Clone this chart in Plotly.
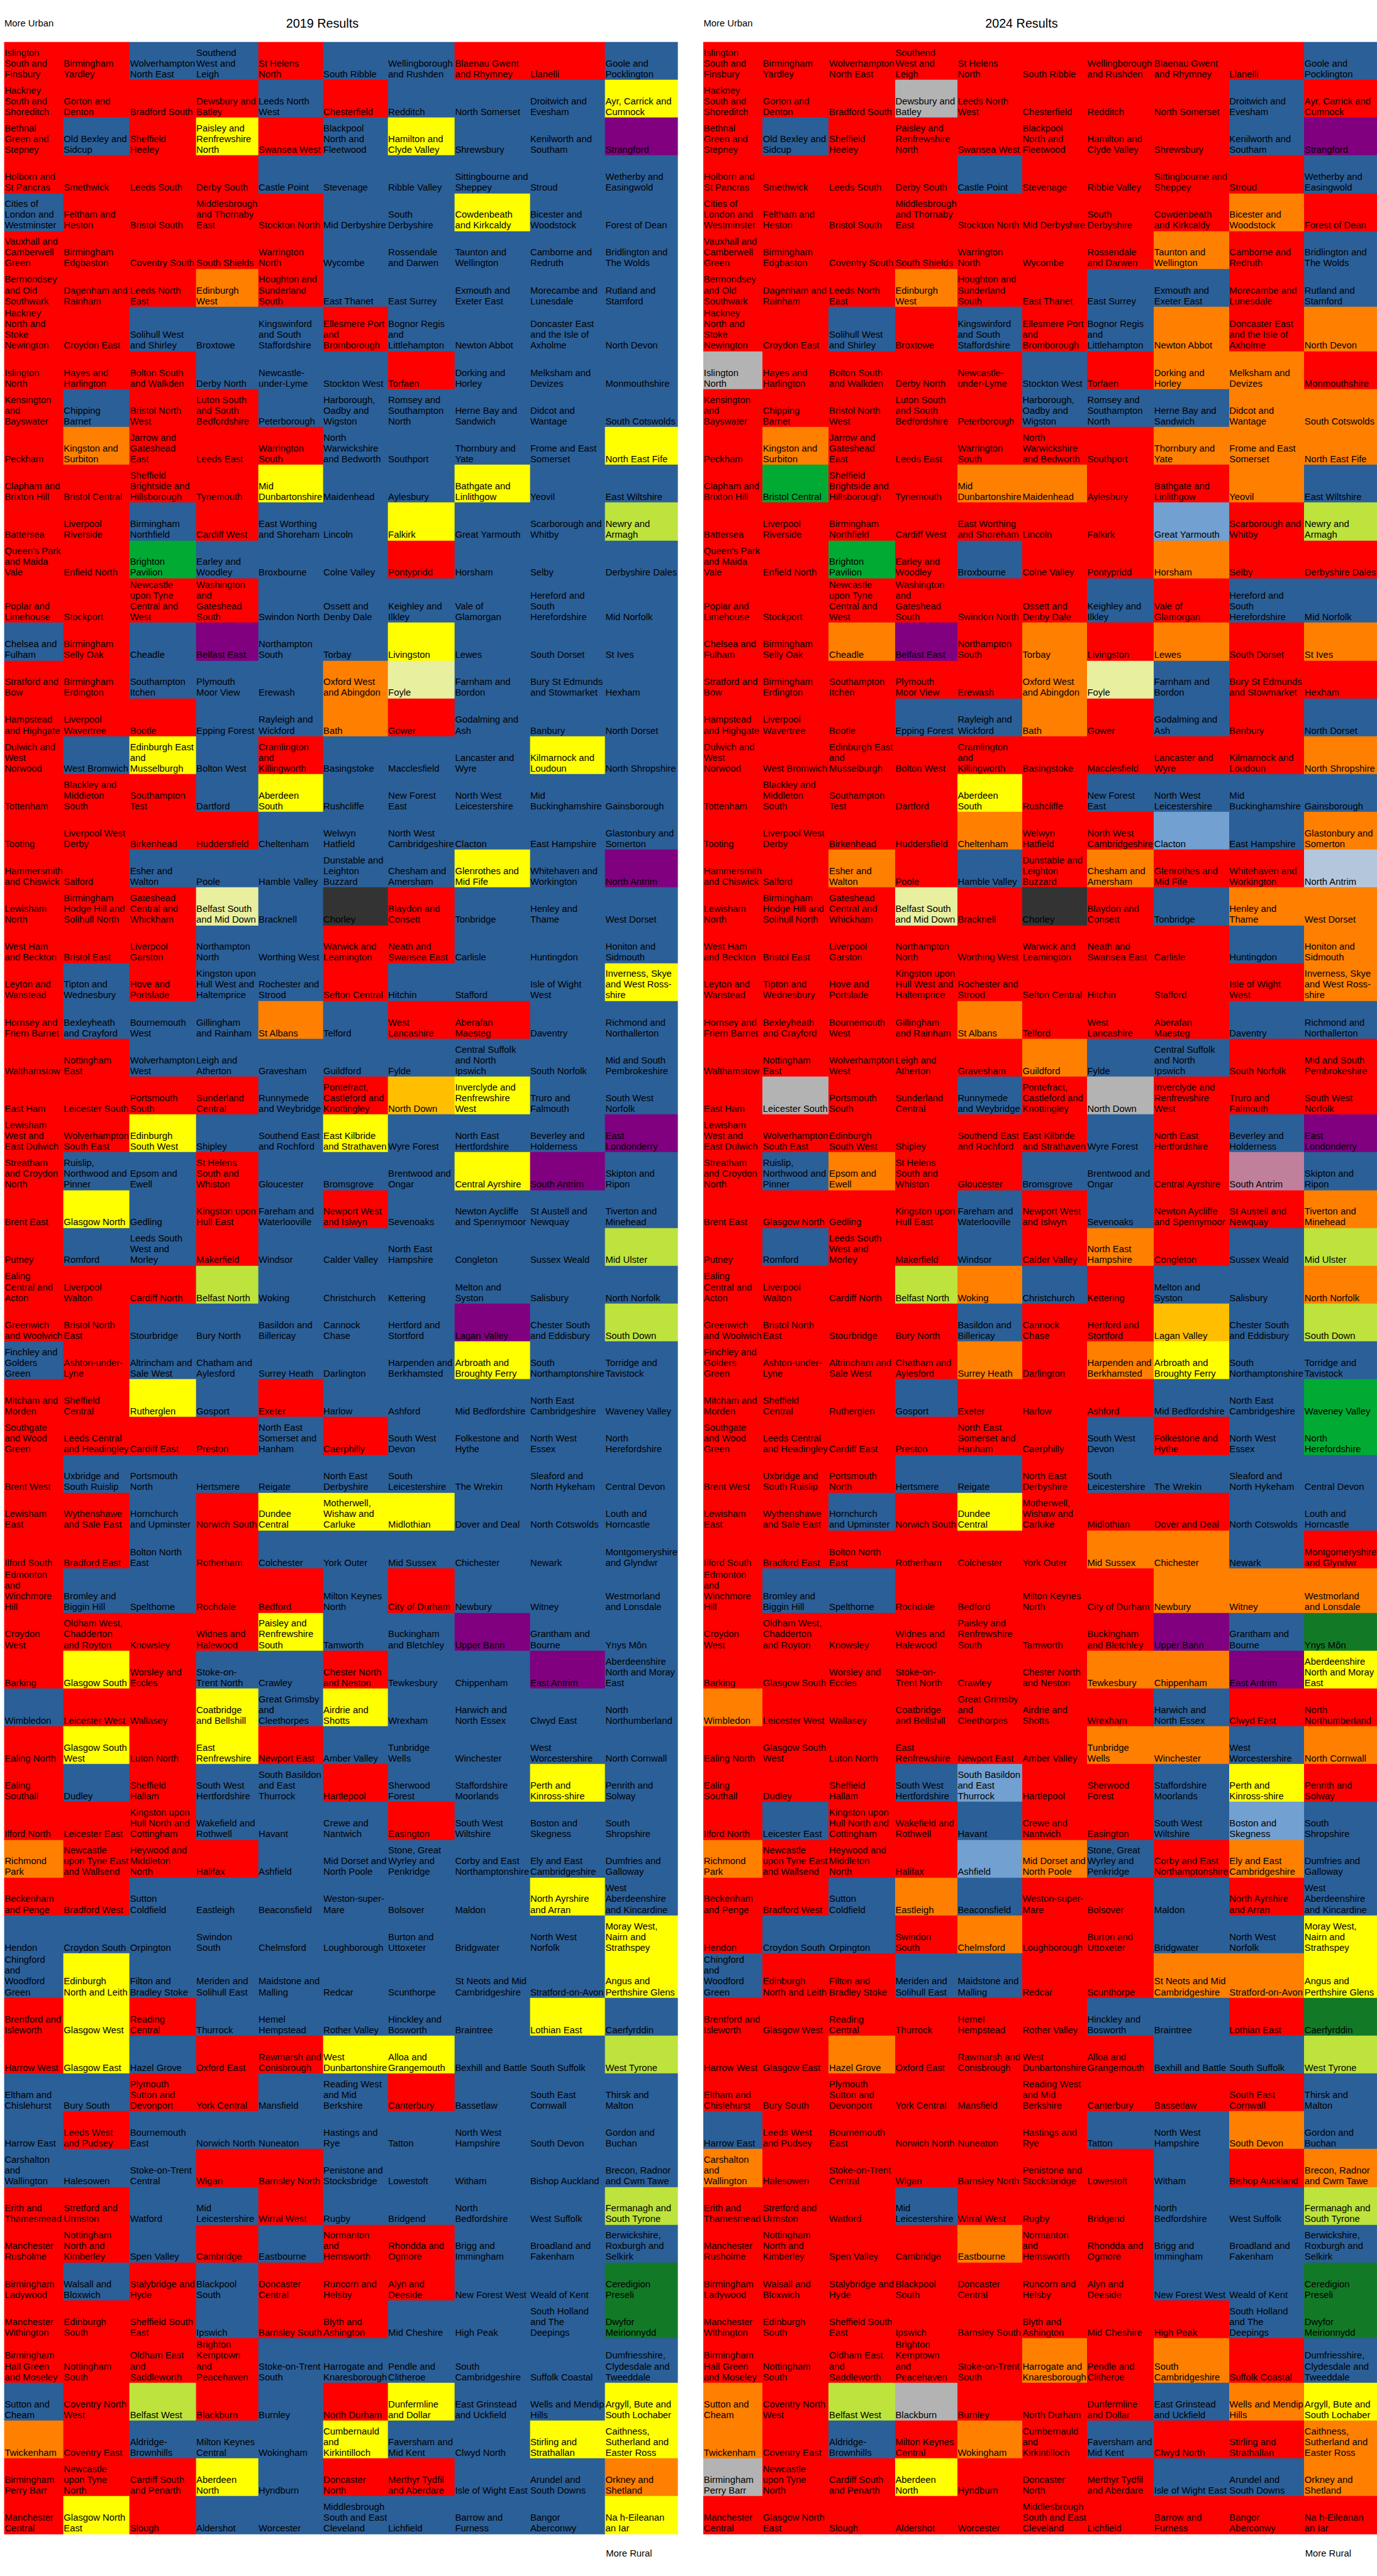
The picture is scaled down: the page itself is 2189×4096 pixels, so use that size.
import re
import plotly.graph_objects as go

# ------------------------------------------------------------------ data
# 65 rows x 10 columns, ordered from most urban (top-left) to most rural (bottom-right)
CONSTITUENCIES = [
    ["Islington South and Finsbury", "Birmingham Yardley", "Wolverhampton North East", "Southend West and Leigh", "St Helens North", "South Ribble", "Wellingborough and Rushden", "Blaenau Gwent and Rhymney", "Llanelli", "Goole and Pocklington"],
    ["Hackney South and Shoreditch", "Gorton and Denton", "Bradford South", "Dewsbury and Batley", "Leeds North West", "Chesterfield", "Redditch", "North Somerset", "Droitwich and Evesham", "Ayr, Carrick and Cumnock"],
    ["Bethnal Green and Stepney", "Old Bexley and Sidcup", "Sheffield Heeley", "Paisley and Renfrewshire North", "Swansea West", "Blackpool North and Fleetwood", "Hamilton and Clyde Valley", "Shrewsbury", "Kenilworth and Southam", "Strangford"],
    ["Holborn and St Pancras", "Smethwick", "Leeds South", "Derby South", "Castle Point", "Stevenage", "Ribble Valley", "Sittingbourne and Sheppey", "Stroud", "Wetherby and Easingwold"],
    ["Cities of London and Westminster", "Feltham and Heston", "Bristol South", "Middlesbrough and Thornaby East", "Stockton North", "Mid Derbyshire", "South Derbyshire", "Cowdenbeath and Kirkcaldy", "Bicester and Woodstock", "Forest of Dean"],
    ["Vauxhall and Camberwell Green", "Birmingham Edgbaston", "Coventry South", "South Shields", "Warrington North", "Wycombe", "Rossendale and Darwen", "Taunton and Wellington", "Camborne and Redruth", "Bridlington and The Wolds"],
    ["Bermondsey and Old Southwark", "Dagenham and Rainham", "Leeds North East", "Edinburgh West", "Houghton and Sunderland South", "East Thanet", "East Surrey", "Exmouth and Exeter East", "Morecambe and Lunesdale", "Rutland and Stamford"],
    ["Hackney North and Stoke Newington", "Croydon East", "Solihull West and Shirley", "Broxtowe", "Kingswinford and South Staffordshire", "Ellesmere Port and Bromborough", "Bognor Regis and Littlehampton", "Newton Abbot", "Doncaster East and the Isle of Axholme", "North Devon"],
    ["Islington North", "Hayes and Harlington", "Bolton South and Walkden", "Derby North", "Newcastle-under-Lyme", "Stockton West", "Torfaen", "Dorking and Horley", "Melksham and Devizes", "Monmouthshire"],
    ["Kensington and Bayswater", "Chipping Barnet", "Bristol North West", "Luton South and South Bedfordshire", "Peterborough", "Harborough, Oadby and Wigston", "Romsey and Southampton North", "Herne Bay and Sandwich", "Didcot and Wantage", "South Cotswolds"],
    ["Peckham", "Kingston and Surbiton", "Jarrow and Gateshead East", "Leeds East", "Warrington South", "North Warwickshire and Bedworth", "Southport", "Thornbury and Yate", "Frome and East Somerset", "North East Fife"],
    ["Clapham and Brixton Hill", "Bristol Central", "Sheffield Brightside and Hillsborough", "Tynemouth", "Mid Dunbartonshire", "Maidenhead", "Aylesbury", "Bathgate and Linlithgow", "Yeovil", "East Wiltshire"],
    ["Battersea", "Liverpool Riverside", "Birmingham Northfield", "Cardiff West", "East Worthing and Shoreham", "Lincoln", "Falkirk", "Great Yarmouth", "Scarborough and Whitby", "Newry and Armagh"],
    ["Queen's Park and Maida Vale", "Enfield North", "Brighton Pavilion", "Earley and Woodley", "Broxbourne", "Colne Valley", "Pontypridd", "Horsham", "Selby", "Derbyshire Dales"],
    ["Poplar and Limehouse", "Stockport", "Newcastle upon Tyne Central and West", "Washington and Gateshead South", "Swindon North", "Ossett and Denby Dale", "Keighley and Ilkley", "Vale of Glamorgan", "Hereford and South Herefordshire", "Mid Norfolk"],
    ["Chelsea and Fulham", "Birmingham Selly Oak", "Cheadle", "Belfast East", "Northampton South", "Torbay", "Livingston", "Lewes", "South Dorset", "St Ives"],
    ["Stratford and Bow", "Birmingham Erdington", "Southampton Itchen", "Plymouth Moor View", "Erewash", "Oxford West and Abingdon", "Foyle", "Farnham and Bordon", "Bury St Edmunds and Stowmarket", "Hexham"],
    ["Hampstead and Highgate", "Liverpool Wavertree", "Bootle", "Epping Forest", "Rayleigh and Wickford", "Bath", "Gower", "Godalming and Ash", "Banbury", "North Dorset"],
    ["Dulwich and West Norwood", "West Bromwich", "Edinburgh East and Musselburgh", "Bolton West", "Cramlington and Killingworth", "Basingstoke", "Macclesfield", "Lancaster and Wyre", "Kilmarnock and Loudoun", "North Shropshire"],
    ["Tottenham", "Blackley and Middleton South", "Southampton Test", "Dartford", "Aberdeen South", "Rushcliffe", "New Forest East", "North West Leicestershire", "Mid Buckinghamshire", "Gainsborough"],
    ["Tooting", "Liverpool West Derby", "Birkenhead", "Huddersfield", "Cheltenham", "Welwyn Hatfield", "North West Cambridgeshire", "Clacton", "East Hampshire", "Glastonbury and Somerton"],
    ["Hammersmith and Chiswick", "Salford", "Esher and Walton", "Poole", "Hamble Valley", "Dunstable and Leighton Buzzard", "Chesham and Amersham", "Glenrothes and Mid Fife", "Whitehaven and Workington", "North Antrim"],
    ["Lewisham North", "Birmingham Hodge Hill and Solihull North", "Gateshead Central and Whickham", "Belfast South and Mid Down", "Bracknell", "Chorley", "Blaydon and Consett", "Tonbridge", "Henley and Thame", "West Dorset"],
    ["West Ham and Beckton", "Bristol East", "Liverpool Garston", "Northampton North", "Worthing West", "Warwick and Leamington", "Neath and Swansea East", "Carlisle", "Huntingdon", "Honiton and Sidmouth"],
    ["Leyton and Wanstead", "Tipton and Wednesbury", "Hove and Portslade", "Kingston upon Hull West and Haltemprice", "Rochester and Strood", "Sefton Central", "Hitchin", "Stafford", "Isle of Wight West", "Inverness, Skye and West Ross-shire"],
    ["Hornsey and Friern Barnet", "Bexleyheath and Crayford", "Bournemouth West", "Gillingham and Rainham", "St Albans", "Telford", "West Lancashire", "Aberafan Maesteg", "Daventry", "Richmond and Northallerton"],
    ["Walthamstow", "Nottingham East", "Wolverhampton West", "Leigh and Atherton", "Gravesham", "Guildford", "Fylde", "Central Suffolk and North Ipswich", "South Norfolk", "Mid and South Pembrokeshire"],
    ["East Ham", "Leicester South", "Portsmouth South", "Sunderland Central", "Runnymede and Weybridge", "Pontefract, Castleford and Knottingley", "North Down", "Inverclyde and Renfrewshire West", "Truro and Falmouth", "South West Norfolk"],
    ["Lewisham West and East Dulwich", "Wolverhampton South East", "Edinburgh South West", "Shipley", "Southend East and Rochford", "East Kilbride and Strathaven", "Wyre Forest", "North East Hertfordshire", "Beverley and Holderness", "East Londonderry"],
    ["Streatham and Croydon North", "Ruislip, Northwood and Pinner", "Epsom and Ewell", "St Helens South and Whiston", "Gloucester", "Bromsgrove", "Brentwood and Ongar", "Central Ayrshire", "South Antrim", "Skipton and Ripon"],
    ["Brent East", "Glasgow North", "Gedling", "Kingston upon Hull East", "Fareham and Waterlooville", "Newport West and Islwyn", "Sevenoaks", "Newton Aycliffe and Spennymoor", "St Austell and Newquay", "Tiverton and Minehead"],
    ["Putney", "Romford", "Leeds South West and Morley", "Makerfield", "Windsor", "Calder Valley", "North East Hampshire", "Congleton", "Sussex Weald", "Mid Ulster"],
    ["Ealing Central and Acton", "Liverpool Walton", "Cardiff North", "Belfast North", "Woking", "Christchurch", "Kettering", "Melton and Syston", "Salisbury", "North Norfolk"],
    ["Greenwich and Woolwich", "Bristol North East", "Stourbridge", "Bury North", "Basildon and Billericay", "Cannock Chase", "Hertford and Stortford", "Lagan Valley", "Chester South and Eddisbury", "South Down"],
    ["Finchley and Golders Green", "Ashton-under-Lyne", "Altrincham and Sale West", "Chatham and Aylesford", "Surrey Heath", "Darlington", "Harpenden and Berkhamsted", "Arbroath and Broughty Ferry", "South Northamptonshire", "Torridge and Tavistock"],
    ["Mitcham and Morden", "Sheffield Central", "Rutherglen", "Gosport", "Exeter", "Harlow", "Ashford", "Mid Bedfordshire", "North East Cambridgeshire", "Waveney Valley"],
    ["Southgate and Wood Green", "Leeds Central and Headingley", "Cardiff East", "Preston", "North East Somerset and Hanham", "Caerphilly", "South West Devon", "Folkestone and Hythe", "North West Essex", "North Herefordshire"],
    ["Brent West", "Uxbridge and South Ruislip", "Portsmouth North", "Hertsmere", "Reigate", "North East Derbyshire", "South Leicestershire", "The Wrekin", "Sleaford and North Hykeham", "Central Devon"],
    ["Lewisham East", "Wythenshawe and Sale East", "Hornchurch and Upminster", "Norwich South", "Dundee Central", "Motherwell, Wishaw and Carluke", "Midlothian", "Dover and Deal", "North Cotswolds", "Louth and Horncastle"],
    ["Ilford South", "Bradford East", "Bolton North East", "Rotherham", "Colchester", "York Outer", "Mid Sussex", "Chichester", "Newark", "Montgomeryshire and Glyndwr"],
    ["Edmonton and Winchmore Hill", "Bromley and Biggin Hill", "Spelthorne", "Rochdale", "Bedford", "Milton Keynes North", "City of Durham", "Newbury", "Witney", "Westmorland and Lonsdale"],
    ["Croydon West", "Oldham West, Chadderton and Royton", "Knowsley", "Widnes and Halewood", "Paisley and Renfrewshire South", "Tamworth", "Buckingham and Bletchley", "Upper Bann", "Grantham and Bourne", "Ynys Môn"],
    ["Barking", "Glasgow South", "Worsley and Eccles", "Stoke-on-Trent North", "Crawley", "Chester North and Neston", "Tewkesbury", "Chippenham", "East Antrim", "Aberdeenshire North and Moray East"],
    ["Wimbledon", "Leicester West", "Wallasey", "Coatbridge and Bellshill", "Great Grimsby and Cleethorpes", "Airdrie and Shotts", "Wrexham", "Harwich and North Essex", "Clwyd East", "North Northumberland"],
    ["Ealing North", "Glasgow South West", "Luton North", "East Renfrewshire", "Newport East", "Amber Valley", "Tunbridge Wells", "Winchester", "West Worcestershire", "North Cornwall"],
    ["Ealing Southall", "Dudley", "Sheffield Hallam", "South West Hertfordshire", "South Basildon and East Thurrock", "Hartlepool", "Sherwood Forest", "Staffordshire Moorlands", "Perth and Kinross-shire", "Penrith and Solway"],
    ["Ilford North", "Leicester East", "Kingston upon Hull North and Cottingham", "Wakefield and Rothwell", "Havant", "Crewe and Nantwich", "Easington", "South West Wiltshire", "Boston and Skegness", "South Shropshire"],
    ["Richmond Park", "Newcastle upon Tyne East and Wallsend", "Heywood and Middleton North", "Halifax", "Ashfield", "Mid Dorset and North Poole", "Stone, Great Wyrley and Penkridge", "Corby and East Northamptonshire", "Ely and East Cambridgeshire", "Dumfries and Galloway"],
    ["Beckenham and Penge", "Bradford West", "Sutton Coldfield", "Eastleigh", "Beaconsfield", "Weston-super-Mare", "Bolsover", "Maldon", "North Ayrshire and Arran", "West Aberdeenshire and Kincardine"],
    ["Hendon", "Croydon South", "Orpington", "Swindon South", "Chelmsford", "Loughborough", "Burton and Uttoxeter", "Bridgwater", "North West Norfolk", "Moray West, Nairn and Strathspey"],
    ["Chingford and Woodford Green", "Edinburgh North and Leith", "Filton and Bradley Stoke", "Meriden and Solihull East", "Maidstone and Malling", "Redcar", "Scunthorpe", "St Neots and Mid Cambridgeshire", "Stratford-on-Avon", "Angus and Perthshire Glens"],
    ["Brentford and Isleworth", "Glasgow West", "Reading Central", "Thurrock", "Hemel Hempstead", "Rother Valley", "Hinckley and Bosworth", "Braintree", "Lothian East", "Caerfyrddin"],
    ["Harrow West", "Glasgow East", "Hazel Grove", "Oxford East", "Rawmarsh and Conisbrough", "West Dunbartonshire", "Alloa and Grangemouth", "Bexhill and Battle", "South Suffolk", "West Tyrone"],
    ["Eltham and Chislehurst", "Bury South", "Plymouth Sutton and Devonport", "York Central", "Mansfield", "Reading West and Mid Berkshire", "Canterbury", "Bassetlaw", "South East Cornwall", "Thirsk and Malton"],
    ["Harrow East", "Leeds West and Pudsey", "Bournemouth East", "Norwich North", "Nuneaton", "Hastings and Rye", "Tatton", "North West Hampshire", "South Devon", "Gordon and Buchan"],
    ["Carshalton and Wallington", "Halesowen", "Stoke-on-Trent Central", "Wigan", "Barnsley North", "Penistone and Stocksbridge", "Lowestoft", "Witham", "Bishop Auckland", "Brecon, Radnor and Cwm Tawe"],
    ["Erith and Thamesmead", "Stretford and Urmston", "Watford", "Mid Leicestershire", "Wirral West", "Rugby", "Bridgend", "North Bedfordshire", "West Suffolk", "Fermanagh and South Tyrone"],
    ["Manchester Rusholme", "Nottingham North and Kimberley", "Spen Valley", "Cambridge", "Eastbourne", "Normanton and Hemsworth", "Rhondda and Ogmore", "Brigg and Immingham", "Broadland and Fakenham", "Berwickshire, Roxburgh and Selkirk"],
    ["Birmingham Ladywood", "Walsall and Bloxwich", "Stalybridge and Hyde", "Blackpool South", "Doncaster Central", "Runcorn and Helsby", "Alyn and Deeside", "New Forest West", "Weald of Kent", "Ceredigion Preseli"],
    ["Manchester Withington", "Edinburgh South", "Sheffield South East", "Ipswich", "Barnsley South", "Blyth and Ashington", "Mid Cheshire", "High Peak", "South Holland and The Deepings", "Dwyfor Meirionnydd"],
    ["Birmingham Hall Green and Moseley", "Nottingham South", "Oldham East and Saddleworth", "Brighton Kemptown and Peacehaven", "Stoke-on-Trent South", "Harrogate and Knaresborough", "Pendle and Clitheroe", "South Cambridgeshire", "Suffolk Coastal", "Dumfriesshire, Clydesdale and Tweeddale"],
    ["Sutton and Cheam", "Coventry North West", "Belfast West", "Blackburn", "Burnley", "North Durham", "Dunfermline and Dollar", "East Grinstead and Uckfield", "Wells and Mendip Hills", "Argyll, Bute and South Lochaber"],
    ["Twickenham", "Coventry East", "Aldridge-Brownhills", "Milton Keynes Central", "Wokingham", "Cumbernauld and Kirkintilloch", "Faversham and Mid Kent", "Clwyd North", "Stirling and Strathallan", "Caithness, Sutherland and Easter Ross"],
    ["Birmingham Perry Barr", "Newcastle upon Tyne North", "Cardiff South and Penarth", "Aberdeen North", "Hyndburn", "Doncaster North", "Merthyr Tydfil and Aberdare", "Isle of Wight East", "Arundel and South Downs", "Orkney and Shetland"],
    ["Manchester Central", "Glasgow North East", "Slough", "Aldershot", "Worcester", "Middlesbrough South and East Cleveland", "Lichfield", "Barrow and Furness", "Bangor Aberconwy", "Na h-Eileanan an Iar"],
]

# winning party per seat, one string per row (same order as CONSTITUENCIES)
RESULTS_2019 = [
    "Lab Lab Con Con Lab Con Con Lab Lab Con",
    "Lab Lab Lab Lab Con Lab Con Con Con SNP",
    "Lab Con Lab SNP Lab Con SNP Con Con DUP",
    "Lab Lab Lab Lab Con Con Con Con Con Con",
    "Con Lab Lab Lab Lab Con Con SNP Con Con",
    "Lab Lab Lab Lab Lab Con Con Con Con Con",
    "Lab Lab Lab LD Lab Con Con Con Con Con",
    "Lab Lab Con Con Con Lab Con Con Con Con",
    "Lab Lab Lab Con Con Con Lab Con Con Con",
    "Lab Con Lab Lab Con Con Con Con Con Con",
    "Lab LD Lab Lab Lab Con Con Con Con SNP",
    "Lab Lab Lab Lab SNP Con Con SNP Con Con",
    "Lab Lab Con Lab Con Con SNP Con Con SF",
    "Lab Lab Grn Con Con Con Lab Con Con Con",
    "Lab Lab Lab Lab Con Con Con Con Con Con",
    "Con Lab Con DUP Con Con SNP Con Con Con",
    "Lab Lab Con Con Con LD SDLP Con Con Con",
    "Lab Lab Lab Con Con LD Lab Con Con Con",
    "Lab Con SNP Con Lab Con Con Con SNP Con",
    "Lab Lab Lab Con SNP Con Con Con Con Con",
    "Lab Lab Lab Lab Con Con Con Con Con Con",
    "Lab Lab Con Con Con Con Con SNP Con DUP",
    "Lab Lab Lab SDLP Con Spk Lab Con Con Con",
    "Lab Lab Lab Con Con Lab Lab Con Con Con",
    "Lab Con Lab Con Con Lab Con Con Con SNP",
    "Lab Con Con Con LD Con Lab Lab Con Con",
    "Lab Lab Con Con Con Con Con Con Con Con",
    "Lab Lab Lab Lab Con Lab APNI SNP Con Con",
    "Lab Lab SNP Con Con SNP Con Con Con DUP",
    "Lab Con Con Lab Con Con Con SNP DUP Con",
    "Lab SNP Con Lab Con Lab Con Con Con Con",
    "Lab Con Con Lab Con Con Con Con Con SF",
    "Lab Lab Lab SF Con Con Con Con Con Con",
    "Lab Lab Con Con Con Con Con DUP Con SF",
    "Con Lab Con Con Con Con Con SNP Con Con",
    "Lab Lab SNP Con Lab Con Con Con Con Con",
    "Lab Lab Lab Lab Con Lab Con Con Con Con",
    "Lab Con Con Con Con Con Con Con Con Con",
    "Lab Lab Con Lab SNP SNP SNP Con Con Con",
    "Lab Lab Con Lab Con Con Con Con Con Con",
    "Lab Con Con Lab Lab Con Lab Con Con Con",
    "Lab Lab Lab Lab SNP Con Con DUP Con Con",
    "Lab SNP Lab Con Con Lab Con Con DUP Con",
    "Con Lab Lab SNP Con SNP Con Con Con Con",
    "Lab SNP Lab SNP Lab Con Con Con Con Con",
    "Lab Con Lab Con Con Lab Con Con SNP Con",
    "Lab Lab Lab Con Con Con Lab Con Con Con",
    "LD Lab Lab Lab Con Con Con Con Con Con",
    "Lab Lab Con Con Con Con Con Con SNP Con",
    "Con Con Con Con Con Con Con Con Con SNP",
    "Con SNP Con Con Con Con Con Con Con SNP",
    "Lab SNP Lab Con Con Con Con Con SNP Con",
    "Lab SNP Con Lab Lab SNP SNP Con Con SF",
    "Con Con Lab Lab Con Con Lab Con Con Con",
    "Con Lab Con Con Con Con Con Con Con Con",
    "Con Con Con Lab Lab Con Con Con Con Con",
    "Lab Lab Con Con Lab Con Con Con Con SF",
    "Lab Lab Con Lab Con Lab Lab Con Con Con",
    "Lab Con Lab Con Lab Lab Lab Con Con PC",
    "Lab Lab Lab Con Lab Lab Con Con Con PC",
    "Lab Lab Lab Lab Con Con Con Con Con Con",
    "Con Lab SF Lab Con Lab SNP Con Con SNP",
    "LD Lab Con Con Con SNP Con Con SNP SNP",
    "Lab Lab Lab SNP Con Lab Lab Con Con LD",
    "Lab SNP Lab Con Con Con Con Con Con SNP",
]

RESULTS_2024 = [
    "Lab Lab Lab Lab Lab Lab Lab Lab Lab Con",
    "Lab Lab Lab Ind Lab Lab Lab Lab Con Lab",
    "Lab Con Lab Lab Lab Lab Lab Lab Con DUP",
    "Lab Lab Lab Lab Con Lab Lab Lab Lab Con",
    "Lab Lab Lab Lab Lab Lab Lab Lab LD Lab",
    "Lab Lab Lab Lab Lab Lab Lab LD Lab Con",
    "Lab Lab Lab LD Lab Lab Con Con Lab Con",
    "Lab Lab Con Lab Con Lab Con LD Lab LD",
    "Ind Lab Lab Lab Lab Con Lab LD LD Lab",
    "Lab Lab Lab Lab Lab Con Con Con LD LD",
    "Lab LD Lab Lab Lab Lab Lab LD LD LD",
    "Lab Grn Lab Lab LD LD Lab Lab LD Con",
    "Lab Lab Lab Lab Lab Lab Lab Ref Lab SF",
    "Lab Lab Grn Lab Con Lab Lab LD Lab Lab",
    "Lab Lab Lab Lab Lab Lab Con Lab Con Con",
    "Lab Lab LD DUP Lab LD Lab LD Lab LD",
    "Lab Lab Lab Lab Lab LD SDLP Con Lab Lab",
    "Lab Lab Lab Con Con LD Lab Con Lab Con",
    "Lab Lab Lab Lab Lab Lab Lab Lab Lab LD",
    "Lab Lab Lab Lab SNP Lab Con Con Con Con",
    "Lab Lab Lab Lab LD Lab Lab Ref Con LD",
    "Lab Lab LD Lab Con Lab LD Lab Lab TUV",
    "Lab Lab Lab SDLP Lab Spk Lab Con LD LD",
    "Lab Lab Lab Lab Lab Lab Lab Lab Con LD",
    "Lab Lab Lab Lab Lab Lab Lab Lab Lab LD",
    "Lab Lab Lab Lab LD Lab Lab Lab Con Con",
    "Lab Lab Lab Lab Lab LD Con Con Lab Lab",
    "Lab Ind Lab Lab Con Lab Ind Lab Lab Lab",
    "Lab Lab Lab Lab Lab Lab Con Lab Con DUP",
    "Lab Con LD Lab Lab Con Con Lab UUP Con",
    "Lab Lab Lab Lab Con Lab Con Lab Lab LD",
    "Lab Con Lab Lab Con Lab LD Lab Con SF",
    "Lab Lab Lab SF LD Con Lab Con Con LD",
    "Lab Lab Lab Lab Con Lab Lab APNI Con SF",
    "Lab Lab Lab Lab LD Lab LD SNP Con Con",
    "Lab Lab Lab Con Lab Lab Lab Con Con Grn",
    "Lab Lab Lab Lab Lab Lab Con Lab Con Grn",
    "Lab Lab Lab Con Con Lab Con Con Con Con",
    "Lab Lab Con Lab SNP Lab Lab Lab Con Con",
    "Lab Lab Lab Lab Lab Lab LD LD Con Lab",
    "Lab Con Con Lab Lab Lab Lab LD LD LD",
    "Lab Lab Lab Lab Lab Lab Lab DUP Con PC",
    "Lab Lab Lab Lab Lab Lab LD LD DUP SNP",
    "LD Lab Lab Lab Lab Lab Lab Con Lab Lab",
    "Lab Lab Lab Lab Lab Lab LD LD Con LD",
    "Lab Lab Lab Con Ref Lab Lab Con SNP Lab",
    "Lab Con Lab Lab Con Lab Lab Con Ref Con",
    "LD Lab Lab Lab Ref LD Con Lab LD Con",
    "Lab Lab Con LD Con Lab Lab Con Lab Con",
    "Lab Con Con Lab LD Lab Lab Con Con SNP",
    "Con Lab Lab Con Con Lab Lab LD LD SNP",
    "Lab Lab Lab Lab Lab Lab Con Con Lab PC",
    "Lab Lab LD Lab Lab Lab Lab Con Con SF",
    "Lab Lab Lab Lab Lab Lab Lab Lab Lab Con",
    "Con Lab Lab Lab Lab Lab Con Con LD Con",
    "LD Lab Lab Lab Lab Lab Lab Con Lab LD",
    "Lab Lab Lab Con Lab Lab Lab Con Con SF",
    "Lab Lab Lab Lab LD Lab Lab Con Con Con",
    "Lab Lab Lab Lab Lab Lab Lab Con Con PC",
    "Lab Lab Lab Lab Lab Lab Lab Lab Con PC",
    "Lab Lab Lab Lab Lab LD Lab LD Lab Con",
    "LD Lab SF Ind Lab Lab Lab Con LD SNP",
    "LD Lab Con Lab LD Lab Con Lab Lab LD",
    "Ind Lab Lab SNP Lab Lab Lab Con Con LD",
    "Lab Lab Lab Lab Lab Lab Lab Lab Lab Lab",
]

PARTY_COLOURS = {
    "Con": "#2b5f98",
    "Lab": "#ff0000",
    "LD": "#ff7f00",
    "SNP": "#ffff00",
    "Grn": "#00aa33",
    "PC": "#127a27",
    "DUP": "#800080",
    "SF": "#bde33c",
    "SDLP": "#e8ef9f",
    "APNI": "#ffbf00",
    "UUP": "#c07f9b",
    "TUV": "#b4c6dc",
    "Ref": "#72a0d0",
    "Ind": "#b3b3b3",
    "Spk": "#333333",
}

PANEL_TITLES = ["2019 Results", "2024 Results"]
URBAN_LABEL = "More Urban"
RURAL_LABEL = "More Rural"

# ------------------------------------------------------------------ layout / style (reference pixel units)
REF_W, REF_H = 2657, 4972
OUT_W, OUT_H = 2189, 4096
SCALE = OUT_W / REF_W
FONT_FAMILY = "Liberation Sans, Arial, Helvetica, sans-serif"
CELL_FONT = 18.0
TITLE_FONT = 24.0
LINE_H = 20.7
CELL_PAD = 1.0
MIN_ROW_H = 73.0
ROW_EXTRA = 3.2
BASELINE_GAP = 5.0
GRID_TOP = 81.0
PANEL_LEFT = [8.0, 1357.0]
TITLE_CENTRE = 614.0
TITLE_BASELINE = 53.6
URBAN_BASELINE = 51.3
RURAL_BASELINE_GAP = 43.4

# Arial / Liberation Sans advance widths (units per em = 2048) and a few kerning pairs
ADV = dict(zip("ABCDEFGHIJKLMNOPQRSTUVWXYZ",
               [1366, 1366, 1479, 1479, 1366, 1251, 1593, 1479, 569, 1024, 1366, 1139, 1706,
                1479, 1593, 1366, 1593, 1479, 1366, 1251, 1479, 1366, 1933, 1366, 1366, 1251]))
ADV.update(zip("abcdefghijklmnopqrstuvwxyz",
               [1139, 1139, 1024, 1139, 1139, 569, 1139, 1139, 455, 455, 1024, 455, 1706,
                1139, 1139, 1139, 1139, 682, 1024, 569, 1139, 1024, 1479, 1024, 1024, 1024]))
ADV.update({" ": 569, ",": 569, "-": 682, "'": 391, ".": 569, "ô": 1139})

KERN = {}


def _kern(lefts, rights, value):
    for a in lefts:
        for b in rights:
            KERN[(a, b)] = value


_kern("T", "aceos", -227)
_kern("T", "ru", -76)
_kern("T", "wy", -113)
_kern("T", "i", -37)
_kern("W", "a", -37)
_kern("W", "eoru", -18)
_kern("W", "y", -9)
_kern("Y", "aeo", -152)
_kern("Y", "u", -113)
_kern("V", "a", -113)
_kern("V", "eo", -76)
_kern("V", "ruiy", -37)
_kern("L", "y", -76)
_kern("A", "vy", -37)
_kern("A", "w", -18)


def text_units(s):
    total = 0
    for i, ch in enumerate(s):
        total += ADV.get(ch, 1139)
        if i:
            total += KERN.get((s[i - 1], ch), 0)
    return total


def word_chunks(word):
    # a line may break after a hyphen
    return re.findall(r"[^-]*-|[^-]+", word)


def min_content(name):
    return max(text_units(c) for w in name.split(" ") for c in word_chunks(w))


def wrap(name, avail):
    lines, cur = [], ""
    for w in name.split(" "):
        for j, chunk in enumerate(word_chunks(w)):
            cand = cur + (" " if (j == 0 and cur) else "") + chunk
            if cur and text_units(cand) > avail:
                lines.append(cur)
                cur = chunk
            else:
                cur = cand
    lines.append(cur)
    return lines


N_ROWS = len(CONSTITUENCIES)
N_COLS = len(CONSTITUENCIES[0])
U2PX = CELL_FONT / 2048.0

# auto table layout: each column is as wide as its longest unbreakable piece
col_avail = [max(min_content(CONSTITUENCIES[r][c]) for r in range(N_ROWS)) for c in range(N_COLS)]
col_w = [a * U2PX + 2 * CELL_PAD for a in col_avail]
wrapped = [[wrap(CONSTITUENCIES[r][c], col_avail[c]) for c in range(N_COLS)] for r in range(N_ROWS)]
row_h = [max(MIN_ROW_H, max(len(x) for x in wrapped[r]) * LINE_H + ROW_EXTRA) for r in range(N_ROWS)]

y_edges = [GRID_TOP]
for h in row_h:
    y_edges.append(y_edges[-1] + h)

PARTIES = list(PARTY_COLOURS)
NP = len(PARTIES)
PARTY_INDEX = {p: i for i, p in enumerate(PARTIES)}
colorscale = []
for i, p in enumerate(PARTIES):
    colorscale.append([i / NP, PARTY_COLOURS[p]])
    colorscale.append([(i + 1) / NP, PARTY_COLOURS[p]])

fig = go.Figure()

for panel, (x0, results, title) in enumerate(zip(PANEL_LEFT, [RESULTS_2019, RESULTS_2024], PANEL_TITLES)):
    x_edges = [x0]
    for w in col_w:
        x_edges.append(x_edges[-1] + w)
    z = [[PARTY_INDEX[code] for code in row.split()] for row in results]
    hover = [[f"{CONSTITUENCIES[r][c]}: {results[r].split()[c]}" for c in range(N_COLS)] for r in range(N_ROWS)]
    fig.add_trace(go.Heatmap(
        x=x_edges, y=y_edges, z=z, text=hover, hoverinfo="text",
        colorscale=colorscale, zmin=-0.5, zmax=NP - 0.5, showscale=False,
        xgap=0, ygap=0,
    ))

    tx, ty, tt = [], [], []
    for r in range(N_ROWS):
        bottom = y_edges[r + 1]
        for c in range(N_COLS):
            lines = wrapped[r][c]
            n = len(lines)
            for i, ln in enumerate(lines):
                baseline = bottom - BASELINE_GAP - (n - 1 - i) * LINE_H
                tx.append(x_edges[c] + CELL_PAD)
                ty.append(baseline - 0.25 * CELL_FONT)
                tt.append(ln)
    fig.add_trace(go.Scatter(
        x=tx, y=ty, text=tt, mode="text", textposition="middle right",
        textfont=dict(family=FONT_FAMILY, size=CELL_FONT * SCALE, color="#000000"),
        hoverinfo="skip", cliponaxis=False, showlegend=False,
    ))

    # panel labels
    fig.add_trace(go.Scatter(
        x=[x0 + TITLE_CENTRE], y=[TITLE_BASELINE - 0.25 * TITLE_FONT], text=[title],
        mode="text", textposition="middle center",
        textfont=dict(family=FONT_FAMILY, size=TITLE_FONT * SCALE, color="#000000"),
        hoverinfo="skip", cliponaxis=False, showlegend=False,
    ))
    fig.add_trace(go.Scatter(
        x=[x0 + 0.5, x_edges[N_COLS - 1] + 2.0],
        y=[URBAN_BASELINE - 0.25 * CELL_FONT, y_edges[-1] + RURAL_BASELINE_GAP - 0.25 * CELL_FONT],
        text=[URBAN_LABEL, RURAL_LABEL],
        mode="text", textposition="middle right",
        textfont=dict(family=FONT_FAMILY, size=CELL_FONT * SCALE, color="#000000"),
        hoverinfo="skip", cliponaxis=False, showlegend=False,
    ))

fig.update_layout(
    width=OUT_W, height=OUT_H,
    margin=dict(l=0, r=0, t=0, b=0, pad=0),
    paper_bgcolor="#ffffff", plot_bgcolor="#ffffff",
    showlegend=False,
    xaxis=dict(range=[0, REF_W], visible=False, fixedrange=True, showgrid=False, zeroline=False),
    yaxis=dict(range=[REF_H, 0], visible=False, fixedrange=True, showgrid=False, zeroline=False),
)

fig.write_html("out.html", include_plotlyjs=True, full_html=True,
               config={"displayModeBar": False, "responsive": False})
